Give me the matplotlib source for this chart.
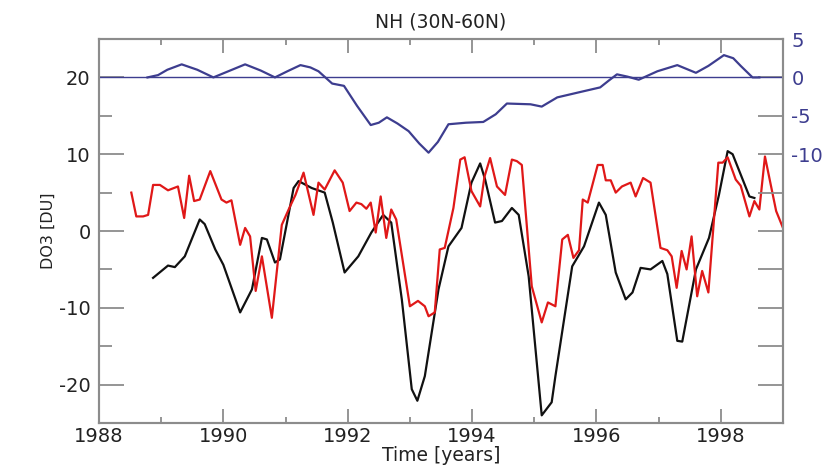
import matplotlib
matplotlib.use("Agg")
import matplotlib.pyplot as plt

# --- data ---
# red: monthly-ish observed DO3 anomaly [DU], left axis
red_t = [1988.52, 1988.60, 1988.71, 1988.79, 1988.87, 1988.98, 1989.11, 1989.27, 1989.37, 1989.45,
         1989.53, 1989.62, 1989.79, 1989.97, 1990.05, 1990.13, 1990.27, 1990.35, 1990.43, 1990.52,
         1990.62, 1990.78, 1990.94, 1991.05, 1991.16, 1991.29, 1991.45, 1991.53, 1991.63, 1991.79,
         1991.92, 1992.03, 1992.14, 1992.22, 1992.30, 1992.37, 1992.45, 1992.53, 1992.62, 1992.70,
         1992.78, 1993.00, 1993.13, 1993.24, 1993.30, 1993.40, 1993.48, 1993.56, 1993.70, 1993.81,
         1993.88, 1993.99, 1994.13, 1994.20, 1994.29, 1994.40, 1994.53, 1994.64, 1994.72, 1994.80,
         1994.96, 1995.12, 1995.22, 1995.34, 1995.45, 1995.54, 1995.63, 1995.72, 1995.78, 1995.86,
         1996.02, 1996.10, 1996.15, 1996.23, 1996.31, 1996.41, 1996.55, 1996.63, 1996.75, 1996.87,
         1997.03, 1997.14, 1997.21, 1997.29, 1997.37, 1997.45, 1997.53, 1997.62, 1997.70, 1997.80,
         1997.96, 1998.03, 1998.11, 1998.24, 1998.32, 1998.46, 1998.54, 1998.62, 1998.71, 1998.89,
         1999.05]
red_v = [5.0, 1.9, 1.9, 2.1, 6.0, 6.0, 5.3, 5.8, 1.7, 7.2,
         3.9, 4.1, 7.8, 4.1, 3.7, 4.0, -1.8, 0.4, -0.7, -7.8,
         -3.3, -11.3, 0.8, 2.8, 4.7, 7.6, 2.1, 6.3, 5.4, 7.9,
         6.3, 2.6, 3.7, 3.5, 2.9, 3.7, -0.2, 4.5, -0.9, 2.8,
         1.5, -9.8, -9.1, -9.8, -11.1, -10.6, -2.4, -2.2, 3.0, 9.3,
         9.6, 5.2, 3.2, 7.1, 9.5, 5.8, 4.7, 9.3, 9.1, 8.6,
         -7.2, -11.9, -9.3, -9.8, -1.1, -0.5, -3.5, -2.5, 4.1, 3.7,
         8.6, 8.6, 6.6, 6.6, 5.0, 5.8, 6.3, 4.5, 6.9, 6.3,
         -2.2, -2.5, -3.3, -7.4, -2.6, -5.0, -0.7, -8.5, -5.2, -8.0,
         8.9, 8.9, 9.6, 6.7, 5.9, 1.9, 3.9, 2.8, 9.7, 2.6,
         -0.6]

# black: modelled DO3 anomaly [DU], left axis
black_t = [1988.87, 1989.11, 1989.22, 1989.38, 1989.62, 1989.70, 1989.87, 1990.00, 1990.27, 1990.46,
           1990.62, 1990.70, 1990.83, 1990.91, 1991.13, 1991.21, 1991.42, 1991.63, 1991.76, 1991.95,
           1992.17, 1992.38, 1992.57, 1992.70, 1992.87, 1993.03, 1993.12, 1993.24, 1993.46, 1993.62,
           1993.83, 1993.99, 1994.13, 1994.21, 1994.37, 1994.48, 1994.64, 1994.75, 1994.91, 1995.12,
           1995.28, 1995.34, 1995.61, 1995.80, 1996.04, 1996.15, 1996.31, 1996.47, 1996.58, 1996.71,
           1996.87, 1997.06, 1997.14, 1997.30, 1997.38, 1997.60, 1997.81, 1997.97, 1998.11, 1998.19,
           1998.46, 1998.54]
black_v = [-6.1, -4.5, -4.7, -3.3, 1.5, 0.9, -2.4, -4.4, -10.6, -7.6,
           -0.9, -1.1, -4.1, -3.7, 5.6, 6.5, 5.6, 5.0, 1.1, -5.4,
           -3.3, -0.2, 2.1, 1.1, -8.9, -20.6, -22.1, -18.9, -7.6, -2.0,
           0.4, 6.3, 8.8, 6.7, 1.1, 1.3, 3.0, 2.1, -5.9, -24.0,
           -22.3, -18.9, -4.6, -2.0, 3.7, 2.1, -5.4, -8.9, -8.0, -4.8,
           -5.0, -3.9, -5.6, -14.3, -14.4, -5.0, -0.9, 4.7, 10.4, 10.0,
           4.5, 4.3]

# blue: trend term [DU], right axis
blue_t = [1988.78, 1988.95, 1989.10, 1989.33, 1989.58, 1989.84, 1990.08, 1990.35, 1990.60, 1990.83,
          1991.03, 1991.24, 1991.40, 1991.53, 1991.75, 1991.94, 1992.15, 1992.37, 1992.50, 1992.63,
          1992.80, 1992.98, 1993.15, 1993.30, 1993.45, 1993.62, 1993.90, 1994.18, 1994.38, 1994.56,
          1994.94, 1995.12, 1995.37, 1995.74, 1996.06, 1996.20, 1996.33, 1996.50, 1996.68, 1996.98,
          1997.30, 1997.60, 1997.80, 1998.05, 1998.20, 1998.32, 1998.51, 1998.62]
blue_v = [0.0, 0.3, 1.0, 1.7, 1.0, 0.0, 0.8, 1.7, 0.9, 0.0,
          0.8, 1.6, 1.3, 0.8, -0.8, -1.1, -3.7, -6.2, -5.9, -5.2,
          -6.0, -7.0, -8.6, -9.8, -8.4, -6.1, -5.9, -5.8, -4.8, -3.4,
          -3.5, -3.8, -2.6, -1.9, -1.3, -0.4, 0.4, 0.1, -0.3, 0.8,
          1.6, 0.6, 1.5, 2.9, 2.5, 1.5, 0.0, 0.0]

title = "NH (30N-60N)"
xlabel = "Time [years]"
ylabel = "DO3 [DU]"

grey = "#8c8c8c"
navy = "#3d3d8f"

plt.rcParams["font.family"] = "DejaVu Sans"
plt.rcParams["axes.unicode_minus"] = False

fig = plt.figure(figsize=(8.29, 4.65), dpi=100)
ax = fig.add_axes([0.1194, 0.0903, 0.8251, 0.8258])
ax2 = ax.twinx()

ax.plot(black_t, black_v, color="#111111", lw=1.6, zorder=3)
ax.plot(red_t, red_v, color="#e01818", lw=1.6, zorder=4)
ax2.axhline(0, color=navy, lw=1.0)
ax2.plot(blue_t, blue_v, color=navy, lw=1.6)

ax.set_xlim(1988, 1999)
ax.set_ylim(-25, 25)
ax2.set_ylim(-45, 5)

ax.set_xticks([1988, 1990, 1992, 1994, 1996, 1998])
ax.set_xticks(range(1989, 1999, 2), minor=True)
ax.set_yticks([-20, -10, 0, 10, 20])
ax.set_yticks([-15, -5, 5, 15], minor=True)

rticks = list(range(5, -45, -5))
ax2.set_yticks(rticks)
ax2.set_yticklabels([str(t) if t >= -10 else "" for t in rticks])

for a in (ax, ax2):
    for s in a.spines.values():
        s.set_color(grey)
        s.set_linewidth(1.5)

ax.tick_params(axis="x", which="major", direction="in", length=10, width=1.3, color=grey,
               top=True, labelsize=14, labelcolor="#222222", pad=3)
ax.tick_params(axis="x", which="minor", direction="in", length=4, width=1.3, color=grey, top=True)
ax.tick_params(axis="y", which="major", direction="in", length=18, width=1.3, color=grey,
               labelsize=14, labelcolor="#222222", pad=6)
ax.tick_params(axis="y", which="minor", direction="in", length=9, width=1.3, color=grey)
ax2.tick_params(axis="y", which="major", direction="in", length=18, width=1.3, color=grey,
                labelsize=14, labelcolor=navy, pad=6)

ax.set_title(title, fontsize=13.5, color="#222222", pad=8)
ax.set_xlabel(xlabel, fontsize=13.5, color="#222222", labelpad=0)
ax.set_ylabel(ylabel, fontsize=11.5, color="#222222", labelpad=2)

fig.savefig("out.png", dpi=100)
